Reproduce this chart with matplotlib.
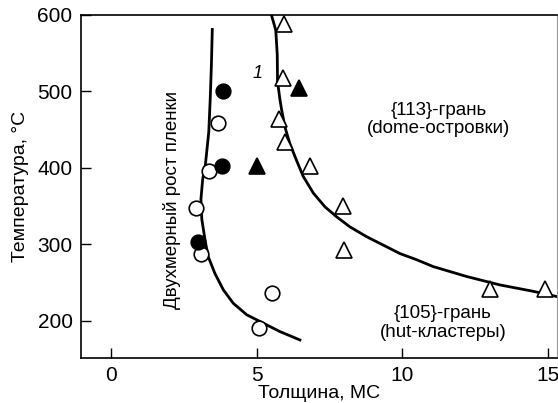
import matplotlib.pyplot as plt

plt.rcParams['font.family'] = ['Liberation Sans', 'DejaVu Sans']

# open circles
circ_open_x = [3.69, 3.38, 2.93, 3.10, 5.52, 5.10]
circ_open_y = [459, 396, 347, 288, 236, 191]
# filled circles
circ_fill_x = [3.86, 3.83, 3.00]
circ_fill_y = [500, 403, 303]
# open triangles
tri_open_x = [5.93, 5.90, 5.76, 5.97, 6.83, 7.97, 8.00, 13.0, 14.9]
tri_open_y = [588, 518, 464, 434, 403, 350, 292, 242, 242]
# filled triangles
tri_fill_x = [5.00, 6.45]
tri_fill_y = [403, 505]

# boundary curves
left_x = [3.48, 3.45, 3.41, 3.36, 3.24, 3.15, 3.09, 3.12, 3.23, 3.34, 3.57, 3.86, 4.20, 4.66, 5.23, 5.80, 6.49]
left_y = [581, 535, 491, 447, 403, 385, 359, 333, 306, 284, 262, 240.5, 223, 208, 197, 186, 175]
right_x = [5.51, 5.66, 5.71, 5.72, 5.80, 5.86, 5.97, 6.14, 6.37, 6.60, 6.95, 7.35, 7.75, 8.2,
           8.78, 9.35, 9.92, 10.49, 11.06, 12.21, 13.35, 14.5, 15.3, 15.6]
right_y = [600, 580, 548, 513, 490, 476, 454, 432, 410, 389, 367, 349, 336, 323,
           310, 299, 288, 280, 271, 258, 247, 238.6, 231.8, 229]

fig = plt.figure(figsize=(5.58, 4.03), dpi=100)
ax = fig.add_axes([0.145, 0.112, 0.853, 0.851])

ax.plot(left_x, left_y, color='black', lw=2, solid_joinstyle='round')
ax.plot(right_x, right_y, color='black', lw=2, solid_joinstyle='round')

ms = 10.5
ax.plot(circ_open_x, circ_open_y, 'o', ms=ms, mfc='white', mec='black', mew=1.2, ls='none')
ax.plot(circ_fill_x, circ_fill_y, 'o', ms=ms, mfc='black', mec='black', mew=1.2, ls='none')
ax.plot(tri_open_x, tri_open_y, '^', ms=ms + 1, mfc='white', mec='black', mew=1.2, ls='none')
ax.plot(tri_fill_x, tri_fill_y, '^', ms=ms + 1, mfc='black', mec='black', mew=1.2, ls='none')

ax.text(2.09, 358, 'Двухмерный рост пленки', rotation=90, ha='center', va='center', fontsize=13.5)
ax.text(5.05, 524, '1', style='italic', ha='center', va='center', fontsize=13)
ax.text(11.24, 463, '{113}-грань\n(dome-островки)', ha='center', va='center', fontsize=13.5, linespacing=1.1)
ax.text(11.4, 197, '{105}-грань\n(hut-кластеры)', ha='center', va='center', fontsize=13.5, linespacing=1.1)

ax.set_xlim(-1.03, 15.31)
ax.set_ylim(151.6, 600)
ax.set_xticks([0, 5, 10, 15])
ax.set_yticks([200, 300, 400, 500, 600])
ax.tick_params(direction='in', length=7, width=1, labelsize=15, pad=6)
for s in ['left', 'bottom', 'top']:
    ax.spines[s].set_linewidth(1.2)
ax.spines['right'].set_color('0.6')
ax.spines['right'].set_linewidth(0.8)

ax.set_xlabel('Толщина, МС', fontsize=14, labelpad=0)
ax.set_ylabel('Температура, °C', fontsize=14, labelpad=6)

fig.savefig('out.png', dpi=100)
